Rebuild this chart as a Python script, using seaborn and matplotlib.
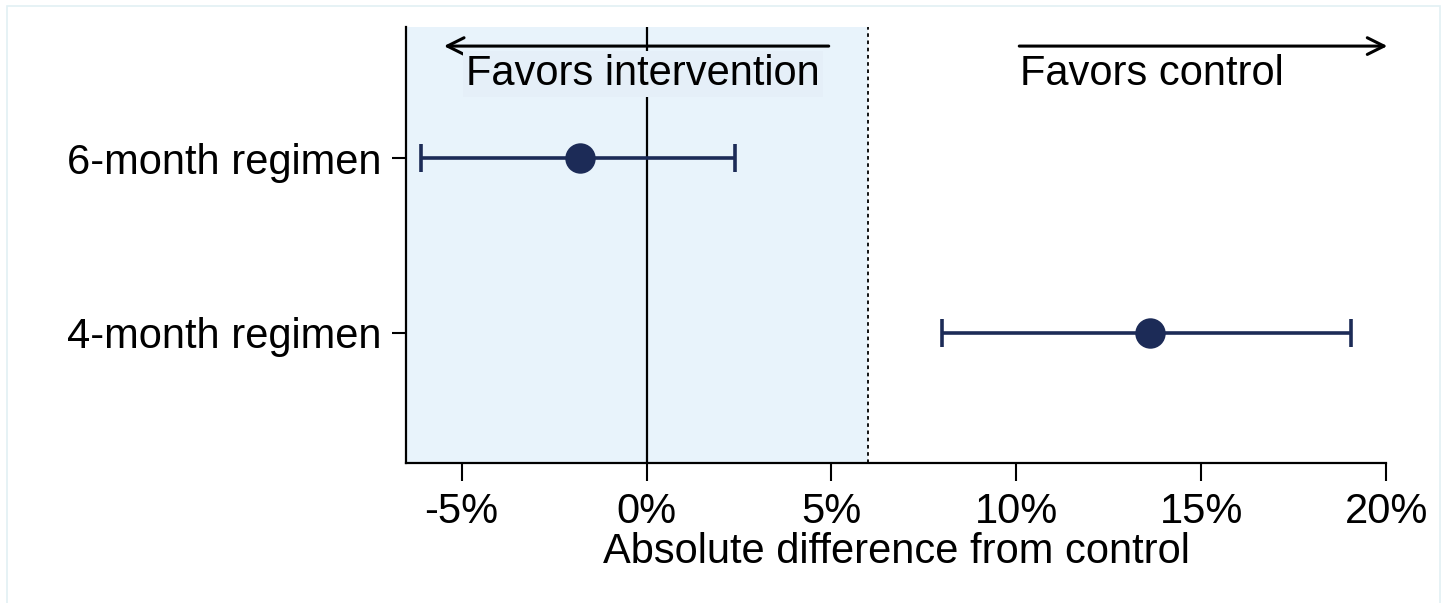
import pandas as pd
import seaborn as sns
import matplotlib.pyplot as plt
from matplotlib.patches import Rectangle

# data (percentage points)
regimens = ["6-month regimen", "4-month regimen"]
estimate = [-1.8, 13.6]
ci_low = [-6.1, 8.0]
ci_high = [2.4, 19.05]

x_ticks = [-5, 0, 5, 10, 15, 20]
x_tick_labels = ["-5%", "0%", "5%", "10%", "15%", "20%"]
margin = 6  # non-inferiority margin

df = pd.DataFrame({"regimen": regimens, "est": estimate, "lo": ci_low, "hi": ci_high})
df["pos"] = range(len(df))

sns.set_style("white")
plt.rcParams["font.family"] = ["Liberation Sans", "DejaVu Sans"]
plt.rcParams["text.color"] = "black"
plt.rcParams["axes.labelcolor"] = "black"
plt.rcParams["xtick.color"] = "black"
plt.rcParams["ytick.color"] = "black"

navy = "#1c2b57"
fs = 30

fig = plt.figure(figsize=(14.48, 6.03), dpi=100)
ax = fig.add_axes([0.2804, 0.2322, 0.6771, 0.723])

# shaded region + reference lines
ax.axvspan(-6.5, margin, color="#e8f3fb", zorder=0, lw=0)
ax.axvline(0, color="black", lw=1.6, zorder=1)
ax.axvline(margin, color="black", lw=1.3, ls=(0, (2, 2)), zorder=1)

# confidence intervals
ax.errorbar(df["est"], df["pos"],
            xerr=[df["est"] - df["lo"], df["hi"] - df["est"]],
            fmt="none", ecolor=navy, elinewidth=2.6, capsize=10, capthick=2.6, zorder=3)
sns.scatterplot(data=df, x="est", y="pos", color=navy, s=480, edgecolor=navy,
                linewidth=0, ax=ax, zorder=4, legend=False)

# direction arrows and labels
ax.annotate("", xy=(-5.55, -0.64), xytext=(5, -0.64),
            arrowprops=dict(arrowstyle="->", lw=2.2, color="black", mutation_scale=30))
ax.annotate("", xy=(20.1, -0.64), xytext=(10, -0.64),
            arrowprops=dict(arrowstyle="->", lw=2.2, color="black", mutation_scale=30),
            annotation_clip=False)
ax.text(-0.1, -0.48, "Favors intervention", fontsize=fs, ha="center", va="center",
        zorder=5, bbox=dict(facecolor="#e5eff8", edgecolor="none", pad=2))
ax.text(10.1, -0.48, "Favors control", fontsize=fs, ha="left", va="center", zorder=5)

ax.set_xlim(-6.5, 20)
ax.set_ylim(1.743, -0.749)
ax.set_xticks(x_ticks)
ax.set_xticklabels(x_tick_labels, fontsize=fs)
ax.set_yticks(df["pos"])
ax.set_yticklabels(regimens, fontsize=fs)
ax.set_xlabel("Absolute difference from control", fontsize=fs, labelpad=0)
ax.set_ylabel("")

sns.despine(ax=ax, top=True, right=True)
for s in ["left", "bottom"]:
    ax.spines[s].set_color("black")
    ax.spines[s].set_linewidth(1.6)
ax.tick_params(axis="x", direction="out", length=13, width=1.5, pad=8, bottom=True)
ax.tick_params(axis="y", direction="out", length=10, width=1.5, pad=8, left=True)

# faint outer frame (bottom edge runs off the image)
fig.patches.append(Rectangle((7 / 1448, -10 / 603), 1433 / 1448, 607 / 603,
                             transform=fig.transFigure, fill=False,
                             edgecolor="#e2f0f4", lw=1.2))

fig.savefig("out.png", dpi=100)
